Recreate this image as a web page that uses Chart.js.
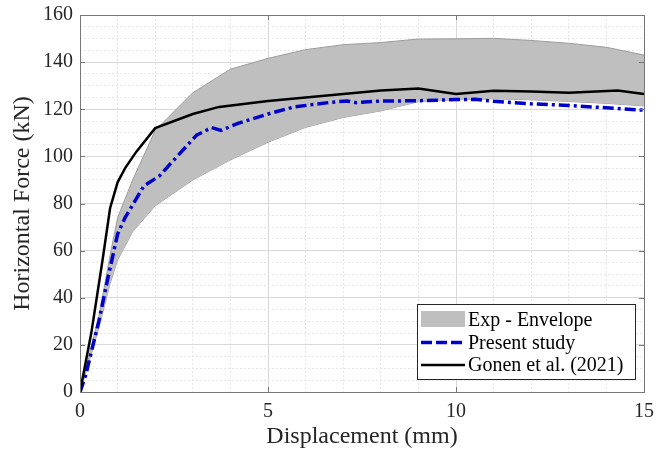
<!DOCTYPE html>
<html>
<head>
<meta charset="utf-8">
<script src="https://cdn.jsdelivr.net/npm/chart.js@4/dist/chart.umd.min.js"></script>
<style>
  html, body { margin: 0; padding: 0; background: #fff; }
  #wrap { width: 656px; height: 456px; }
</style>
</head>
<body>
<div id="wrap"><canvas id="force-chart" width="656" height="456"></canvas></div>
<script>
// data
var envX     = [0, 0.5, 0.8, 1, 1.4, 2, 3, 4, 5, 6, 7, 8, 9, 10, 11, 12, 13, 14, 15];
var envUpper = [0, 32, 58, 74, 90, 111, 127, 137, 141.6, 145.3, 147.4, 148.3, 149.8, 149.9, 150.1, 149.2, 148, 146.3, 143];
var envLower = [0, 27, 46, 56, 68, 79, 90, 98.5, 106, 112.3, 116.5, 119.3, 123.2, 124, 124.4, 124, 123.3, 122.5, 121.4];

var presentX = [0, 0.15, 0.5, 0.75, 1, 1.2, 1.7, 2.1, 2.7, 3.1, 3.5, 3.75, 4.2, 5, 5.7, 6.7, 7.1, 7.35, 8, 9, 10, 10.5, 11, 12, 13, 14, 15];
var presentY = [0, 7, 30, 49, 67, 74, 87.5, 91.5, 102, 109, 112.2, 111, 114, 118, 121, 123, 123.5, 122.8, 123.5, 123.6, 124.1, 124.2, 123.4, 122.3, 121.6, 120.6, 119.6];

var gonenX = [0, 0.3, 0.6, 0.8, 1, 1.2, 1.5, 2, 3, 3.7, 5, 6, 7, 8, 9, 10, 11, 12, 13, 14.3, 15];
var gonenY = [0, 25, 56, 78, 89, 95, 102, 112, 118, 121, 123.5, 125, 126.5, 128, 128.8, 126.5, 127.8, 127.5, 127, 128, 126.5];

var legendLabels = ['Exp - Envelope', 'Present study', 'Gonen et al. (2021)'];

function pts(xs, ys) {
    return xs.map(function (x, i) { return { x: x, y: ys[i] }; });
}

var serif = 'Liberation Serif, Times New Roman, serif';
var axisColor = '#777777';

// box round the plot, inward ticks and the legend
var frame = {
    id: 'frame',
    afterDraw: function (chart) {
        var ctx = chart.ctx;
        var a = chart.chartArea;
        var xs = chart.scales.x, ys = chart.scales.y;
        ctx.save();
        ctx.strokeStyle = axisColor;
        ctx.lineWidth = 1;
        ctx.strokeRect(Math.round(a.left) + 0.5, Math.round(a.top) + 0.5,
            Math.round(a.right - a.left), Math.round(a.bottom - a.top));
        ctx.beginPath();
        [5, 10].forEach(function (v) {
            var px = Math.round(xs.getPixelForValue(v)) + 0.5;
            ctx.moveTo(px, a.bottom); ctx.lineTo(px, a.bottom - 5);
            ctx.moveTo(px, a.top); ctx.lineTo(px, a.top + 5);
        });
        for (var v = 20; v < 160; v += 20) {
            var py = Math.round(ys.getPixelForValue(v)) + 0.5;
            ctx.moveTo(a.left, py); ctx.lineTo(a.left + 5, py);
            ctx.moveTo(a.right, py); ctx.lineTo(a.right - 5, py);
        }
        ctx.stroke();

        // legend
        var lx = 417.5, ly = 304.5, lw = 218, lh = 75;
        ctx.fillStyle = '#fff';
        ctx.fillRect(lx, ly, lw, lh);
        ctx.strokeStyle = '#262626';
        ctx.strokeRect(lx, ly, lw, lh);
        var rows = [320, 342.5, 365];
        var ds = chart.data.datasets;
        ctx.fillStyle = ds[0].backgroundColor;
        ctx.fillRect(421, 311, 44, 16);
        [ds[2], ds[3]].forEach(function (d, i) {
            ctx.beginPath();
            ctx.strokeStyle = d.borderColor;
            ctx.lineWidth = d.borderWidth;
            ctx.setLineDash(i === 0 ? [11, 4] : []);
            ctx.moveTo(421, rows[i + 1]); ctx.lineTo(465, rows[i + 1]);
            ctx.stroke();
        });
        ctx.setLineDash([]);
        ctx.fillStyle = '#000';
        ctx.font = '20px ' + serif;
        ctx.textBaseline = 'middle';
        legendLabels.forEach(function (t, i) { ctx.fillText(t, 468, rows[i] + 1); });
        ctx.restore();
    }
};

function gridColor(c) { return c.tick.value % (c.scale.axis === 'x' ? 5 : 20) === 0 ? '#d9d9d9' : '#e6e6e6'; }
function gridDash(c) { return c.tick.value % (c.scale.axis === 'x' ? 5 : 20) === 0 ? [] : [2, 2]; }

var ctx = document.getElementById('force-chart').getContext('2d');
var chart = new Chart(ctx, {
    type: 'line',
    data: {
        datasets: [{
            label: legendLabels[0],
            data: pts(envX, envUpper),
            fill: '+1',
            backgroundColor: '#bfbfbf',
            borderColor: '#9c9c9c',
            borderWidth: 1,
            pointRadius: 0,
            order: 2
        }, {
            label: 'Exp - lower',
            data: pts(envX, envLower),
            fill: false,
            borderColor: '#9c9c9c',
            borderWidth: 1,
            pointRadius: 0,
            order: 3
        }, {
            label: legendLabels[1],
            data: pts(presentX, presentY),
            fill: false,
            borderColor: '#0000cd',
            borderWidth: 3.5,
            borderDash: [11, 4, 3, 4],
            pointRadius: 0,
            order: 1
        }, {
            label: legendLabels[2],
            data: pts(gonenX, gonenY),
            fill: false,
            borderColor: '#000000',
            borderWidth: 2.5,
            pointRadius: 0,
            order: 0
        }]
    },
    options: {
        responsive: false,
        animation: false,
        layout: { padding: { top: 15, right: 12, left: 0, bottom: 0 } },
        elements: { line: { tension: 0 } },
        plugins: { legend: { display: false }, tooltip: { enabled: false } },
        scales: {
            x: {
                type: 'linear',
                min: 0, max: 15,
                afterFit: function (s) { s.height = 64; s.paddingLeft = 0; s.paddingRight = 0; },
                border: { display: false, dash: gridDash },
                grid: { color: gridColor, drawTicks: false, lineWidth: 1 },
                ticks: {
                    stepSize: 1, autoSkip: false, maxRotation: 0, padding: 8,
                    color: '#262626', font: { family: serif, size: 20 },
                    callback: function (v) { return v % 5 === 0 ? v : ''; }
                },
                title: {
                    display: true, text: 'Displacement (mm)', color: '#262626',
                    font: { family: serif, size: 24 }, padding: { top: 0, bottom: 5 }
                }
            },
            y: {
                min: 0, max: 160,
                afterFit: function (s) { s.width = 80; s.paddingTop = 0; s.paddingBottom = 0; },
                border: { display: false, dash: gridDash },
                grid: { color: gridColor, drawTicks: false, lineWidth: 1 },
                ticks: {
                    stepSize: 5, autoSkip: false, padding: 7,
                    color: '#262626', font: { family: serif, size: 20 },
                    callback: function (v) { return v % 20 === 0 ? v : ''; }
                },
                title: {
                    display: true, text: 'Horizontal Force (kN)', color: '#262626',
                    font: { family: serif, size: 24 }, padding: { top: 8, bottom: 0 }
                }
            }
        }
    },
    plugins: [frame]
});
</script>
</body>
</html>
